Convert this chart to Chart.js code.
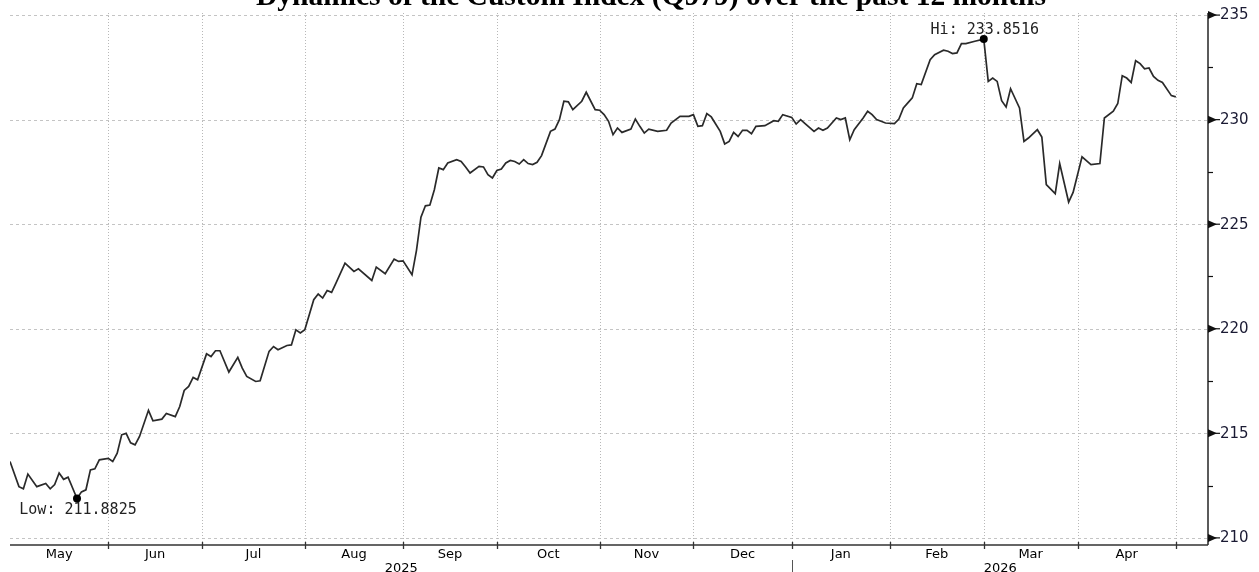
<!DOCTYPE html>
<html>
<head>
<meta charset="utf-8">
<script src="https://cdn.jsdelivr.net/npm/chart.js@4.4.1/dist/chart.umd.min.js"></script>
<style>
  html, body { margin: 0; padding: 0; background: #fff; }
  #wrap { width: 1259px; height: 572px; position: relative; }
</style>
</head>
<body>
<div id="wrap"><canvas id="indexChart"></canvas></div>
<script>
// Custom Index (Q979), one point per trading day index (0 = first trading day of May 2025)
const CHART_TITLE = "Dynamics of the Custom Index (Q979) over the past 12 months";

const tradingDay = [
  0, 2, 3, 4, 6, 8, 9, 10, 11, 12, 13, 15, 16, 17, 18, 19, 20, 22, 23, 24,
  25, 26, 27, 28, 29, 31, 32, 34, 35, 37, 38, 39, 40, 41, 42, 44, 45, 46, 47, 49,
  51, 52, 53, 55, 56, 58, 59, 60, 62, 63, 64, 65, 66, 68, 69, 70, 71, 72, 73, 75,
  77, 78, 81, 82, 84, 86, 87, 88, 90, 91, 92, 93, 94, 95, 96, 97, 98, 100, 101, 102,
  103, 105, 106, 107, 108, 109, 110, 111, 112, 113, 114, 115, 116, 117, 118, 119, 121, 122, 123, 124,
  125, 126, 128, 129, 131, 132, 133, 134, 135, 136, 137, 139, 140, 141, 142, 143, 145, 147, 148, 150,
  152, 153, 154, 155, 156, 157, 159, 160, 161, 162, 163, 164, 165, 166, 167, 169, 171, 172, 173, 175,
  176, 177, 178, 180, 181, 182, 183, 185, 186, 187, 188, 189, 191, 192, 193, 194, 195, 196, 198, 199,
  200, 201, 202, 203, 204, 206, 207, 209, 210, 211, 212, 213, 214, 216, 218, 219, 220, 221, 222, 223,
  224, 226, 227, 228, 230, 231, 232, 234, 235, 237, 238, 240, 242, 244, 245, 247, 248, 249, 250, 251,
  252, 253, 254, 255, 256, 257, 258, 260, 261
];

const indexValue = [
  213.65, 212.45, 212.35, 213.05, 212.45, 212.6, 212.35, 212.55, 213.1, 212.8, 212.9, 211.8825, 212.2, 212.3, 213.25, 213.3, 213.73, 213.8, 213.65, 214.05,
  214.93, 215.0, 214.55, 214.45, 214.85, 216.1, 215.6, 215.68, 215.95, 215.8, 216.28, 217.05, 217.24, 217.67, 217.56, 218.8, 218.67, 218.95, 218.95, 217.93,
  218.63, 218.12, 217.72, 217.48, 217.51, 218.92, 219.15, 219.0, 219.2, 219.23, 219.95, 219.8, 219.95, 221.39, 221.66, 221.47, 221.83, 221.74, 222.19, 223.14,
  222.74, 222.87, 222.31, 222.95, 222.63, 223.33, 223.22, 223.25, 222.58, 223.75, 225.34, 225.88, 225.92, 226.65, 227.69, 227.61, 227.93, 228.09, 228.0, 227.74,
  227.45, 227.77, 227.74, 227.37, 227.21, 227.57, 227.64, 227.93, 228.05, 228.0, 227.88, 228.09, 227.9, 227.85, 227.96, 228.28, 229.44, 229.55, 230.0, 230.88,
  230.85, 230.48, 230.88, 231.31, 230.48, 230.45, 230.24, 229.92, 229.28, 229.6, 229.39, 229.55, 230.03, 229.68, 229.36, 229.55, 229.44, 229.49, 229.84, 230.16,
  230.16, 230.24, 229.68, 229.71, 230.29, 230.13, 229.44, 228.84, 228.96, 229.39, 229.2, 229.49, 229.49, 229.33, 229.68, 229.71, 229.95, 229.92, 230.24, 230.11,
  229.79, 230.0, 229.81, 229.44, 229.6, 229.49, 229.6, 230.08, 230.0, 230.08, 229.04, 229.52, 230.08, 230.4, 230.24, 230.0, 229.92, 229.84, 229.81, 230.03,
  230.56, 230.8, 231.04, 231.72, 231.68, 232.87, 233.11, 233.32, 233.27, 233.16, 233.19, 233.64, 233.64, 233.75, 233.8516, 231.83, 231.99, 231.83, 230.91, 230.61,
  231.48, 230.56, 228.96, 229.12, 229.52, 229.17, 226.89, 226.46, 227.9, 226.06, 226.52, 228.22, 227.85, 227.9, 230.08, 230.4, 230.77, 232.1, 231.99, 231.78,
  232.82, 232.68, 232.43, 232.47, 232.07, 231.88, 231.78, 231.15, 231.09
];

// month boundaries in trading days, and their labels
const monthStarts = [0, 22, 43, 66, 88, 109, 132, 153, 175, 197, 218, 239, 261];
const monthLabels = ["May", "Jun", "Jul", "Aug", "Sep", "Oct", "Nov", "Dec", "Jan", "Feb", "Mar", "Apr"];
const yearLabels = ["2025", "2026"];
const yearStartIndex = 8; // "Jan" is the first month of 2026

const yTicks = [210, 215, 220, 225, 230, 235];
const yMinorTicks = [212.5, 217.5, 222.5, 227.5, 232.5];

const X_MAX = 268.2;
const Y_MIN = 209.66;
const Y_MAX = 235.1;

const decorPlugin = {
  id: "decor",
  beforeDatasetsDraw(chart) {
    const { ctx, chartArea: a, scales: { x, y } } = chart;
    ctx.save();
    // horizontal dashed grid
    ctx.strokeStyle = "#c4c4c4";
    ctx.lineWidth = 1;
    ctx.setLineDash([3, 3]);
    yTicks.forEach(v => {
      const py = Math.round(y.getPixelForValue(v)) + 0.5;
      ctx.beginPath();
      ctx.moveTo(a.left, py);
      ctx.lineTo(a.right, py);
      ctx.stroke();
    });
    // vertical dotted grid at month boundaries
    ctx.setLineDash([1, 2]);
    ctx.strokeStyle = "#b8b8b8";
    monthStarts.slice(1).forEach(d => {
      const px = Math.round(x.getPixelForValue(d)) + 0.5;
      ctx.beginPath();
      ctx.moveTo(px, a.top);
      ctx.lineTo(px, a.bottom);
      ctx.stroke();
    });
    ctx.restore();
  },
  afterDatasetsDraw(chart) {
    const { ctx, chartArea: a, scales: { x, y } } = chart;
    ctx.save();
    ctx.setLineDash([]);

    // axis lines
    ctx.strokeStyle = "#333";
    ctx.lineWidth = 1.6;
    ctx.beginPath();
    ctx.moveTo(a.left, a.bottom);
    ctx.lineTo(a.right, a.bottom);
    ctx.moveTo(a.right, a.top);
    ctx.lineTo(a.right, a.bottom);
    ctx.stroke();

    // x ticks
    ctx.lineWidth = 1.3;
    monthStarts.slice(1).forEach(d => {
      const px = Math.round(x.getPixelForValue(d)) + 0.5;
      ctx.beginPath();
      ctx.moveTo(px, a.bottom - 3);
      ctx.lineTo(px, a.bottom + 4);
      ctx.stroke();
    });

    // month labels
    ctx.fillStyle = "#000";
    ctx.font = "13px 'DejaVu Sans'";
    ctx.textAlign = "center";
    ctx.textBaseline = "middle";
    monthLabels.forEach((m, i) => {
      const cx = (x.getPixelForValue(monthStarts[i]) + x.getPixelForValue(monthStarts[i + 1])) / 2;
      ctx.fillText(m, cx, a.bottom + 10);
    });

    // year labels and separator
    const sep = Math.round(x.getPixelForValue(monthStarts[yearStartIndex])) + 0.5;
    ctx.fillText(yearLabels[0], (a.left + sep) / 2, a.bottom + 24);
    ctx.fillText(yearLabels[1], (sep + a.right) / 2, a.bottom + 24);
    ctx.lineWidth = 1;
    ctx.strokeStyle = "#555";
    ctx.beginPath();
    ctx.moveTo(sep, a.bottom + 15);
    ctx.lineTo(sep, a.bottom + 27);
    ctx.stroke();

    // y ticks: arrow markers + labels, minor ticks
    ctx.fillStyle = "#111";
    ctx.strokeStyle = "#111";
    ctx.lineWidth = 1.2;
    ctx.textAlign = "left";
    ctx.font = "15px 'DejaVu Sans'";
    yTicks.forEach(v => {
      const py = y.getPixelForValue(v);
      ctx.beginPath();
      ctx.moveTo(a.right, py - 4);
      ctx.lineTo(a.right + 9, py);
      ctx.lineTo(a.right, py + 4);
      ctx.closePath();
      ctx.fill();
      ctx.beginPath();
      ctx.moveTo(a.right, py);
      ctx.lineTo(a.right + 12, py);
      ctx.stroke();
      ctx.fillStyle = "#1a1a33";
      ctx.fillText(String(v), a.right + 12, py + 0.5);
      ctx.fillStyle = "#111";
    });
    yMinorTicks.forEach(v => {
      const py = Math.round(y.getPixelForValue(v)) + 0.5;
      ctx.beginPath();
      ctx.moveTo(a.right, py);
      ctx.lineTo(a.right + 5, py);
      ctx.stroke();
    });

    // low / high markers
    let lo = 0, hi = 0;
    indexValue.forEach((v, i) => {
      if (v < indexValue[lo]) lo = i;
      if (v > indexValue[hi]) hi = i;
    });
    const marks = [
      { i: lo, text: "Low: " + indexValue[lo].toFixed(4), dy: 12 },
      { i: hi, text: "Hi: " + indexValue[hi].toFixed(4), dy: -9 }
    ];
    ctx.font = "15px 'DejaVu Sans Mono'";
    ctx.textAlign = "center";
    marks.forEach(m => {
      const px = x.getPixelForValue(tradingDay[m.i]);
      const py = y.getPixelForValue(indexValue[m.i]);
      ctx.fillStyle = "#000";
      ctx.beginPath();
      ctx.arc(px, py, 4, 0, Math.PI * 2);
      ctx.fill();
      ctx.fillStyle = "#222";
      ctx.fillText(m.text, px + 1, py + m.dy);
    });

    // title (partly cut by the top edge, as in the source)
    ctx.fillStyle = "#000";
    ctx.font = "bold 29.5px 'Liberation Serif'";
    ctx.textAlign = "center";
    ctx.textBaseline = "alphabetic";
    ctx.fillText(CHART_TITLE, 651, 5);
    ctx.restore();
  }
};

new Chart(document.getElementById("indexChart"), {
  type: "line",
  data: {
    datasets: [{
      label: "Custom Index (Q979)",
      data: tradingDay.map((d, i) => ({ x: d, y: indexValue[i] })),
      borderColor: "#2a2a2a",
      borderWidth: 1.7,
      pointRadius: 0,
      tension: 0,
      fill: false
    }]
  },
  options: {
    responsive: true,
    maintainAspectRatio: false,
    animation: false,
    layout: { padding: { left: 10, top: 13, right: 0, bottom: 0 } },
    plugins: {
      legend: { display: false },
      tooltip: { enabled: false },
      title: { display: false }
    },
    scales: {
      x: {
        type: "linear",
        min: 0,
        max: X_MAX,
        grid: { display: false },
        border: { display: false },
        ticks: { display: false },
        afterFit(scale) { scale.height = 27; }
      },
      y: {
        position: "right",
        min: Y_MIN,
        max: Y_MAX,
        grid: { display: false },
        border: { display: false },
        ticks: { display: false },
        afterFit(scale) { scale.width = 51; }
      }
    }
  },
  plugins: [decorPlugin]
});
</script>
</body>
</html>
